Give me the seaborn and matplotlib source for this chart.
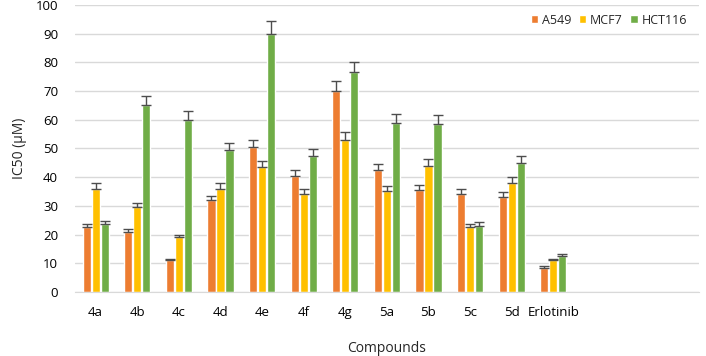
import numpy as np
import pandas as pd
import matplotlib.pyplot as plt
import seaborn as sns

compounds = ['4a', '4b', '4c', '4d', '4e', '4f', '4g', '5a', '5b', '5c', '5d', 'Erlotinib']
cell_lines = ['A549', 'MCF7', 'HCT116']
a549 = [22.5, 21.0, 11.0, 32.0, 50.5, 40.5, 70.0, 42.5, 35.5, 34.0, 33.0, 8.5]
mcf7 = [36.0, 29.5, 19.0, 36.0, 43.5, 34.0, 53.0, 35.0, 44.0, 22.5, 38.0, 11.0]
hct116 = [23.5, 65.0, 60.0, 49.5, 90.0, 47.5, 76.5, 59.0, 58.5, 23.0, 45.0, 12.5]
a549_err = [1.3, 1.1, 0.6, 1.6, 2.6, 2.0, 3.5, 2.2, 1.8, 1.7, 1.7, 0.4]
mcf7_err = [1.8, 1.5, 1.0, 1.8, 2.2, 1.7, 2.6, 1.8, 2.2, 1.1, 1.9, 0.5]
hct116_err = [1.2, 3.2, 3.0, 2.5, 4.5, 2.4, 3.8, 3.0, 3.0, 1.2, 2.3, 0.6]
colors = ['#ED7D31', '#FFC000', '#70AD47']

df = pd.DataFrame({
    'Compound': compounds * 3,
    'Line': np.repeat(cell_lines, len(compounds)),
    'IC50': a549 + mcf7 + hct116,
})
errs = [a549_err, mcf7_err, hct116_err]

sns.set_style('white')
plt.rcParams['font.family'] = ['Open Sans', 'DejaVu Sans']

fig = plt.figure(figsize=(7.06, 3.56), dpi=100)
ax = fig.add_axes([0.106, 0.18, 0.884, 0.806])

sns.barplot(data=df, x='Compound', y='IC50', hue='Line', order=compounds,
            hue_order=cell_lines, palette=colors, errorbar=None,
            width=0.65, gap=0.1, saturation=1, ax=ax)

# only the upper half of each error bar shows above the bar
for cont, err in zip(ax.containers, errs):
    xs = [b.get_x() + b.get_width() / 2 for b in cont]
    ys = [b.get_height() for b in cont]
    ax.errorbar(xs, ys, yerr=[np.zeros(len(err)), err], fmt='none',
                ecolor='#4D4D4D', elinewidth=1, capsize=3.5, capthick=1, zorder=3)

ax.set_xlim(-0.5, 14.5)
ax.set_ylim(0, 100)
ax.set_yticks(range(0, 101, 10))
ax.yaxis.grid(True, color='#D9D9D9', linewidth=1)
ax.set_axisbelow(True)
for s in ['top', 'right', 'left']:
    ax.spines[s].set_visible(False)
ax.spines['bottom'].set_color('#D9D9D9')
ax.tick_params(axis='both', length=0, labelsize=9.5, colors='#000000')
ax.tick_params(axis='x', pad=10)
ax.tick_params(axis='y', pad=12)
ax.set_xlabel('Compounds', fontsize=10, labelpad=16)
ax.set_ylabel('IC50 (µM)', fontsize=10, labelpad=6)

ax.legend(loc='upper right', ncol=3, frameon=False, fontsize=9,
          handlelength=0.6, handleheight=0.6, handletextpad=0.3,
          columnspacing=0.6, borderaxespad=0.3, bbox_to_anchor=(0.995, 1.0))

fig.savefig('out.png', dpi=100)
